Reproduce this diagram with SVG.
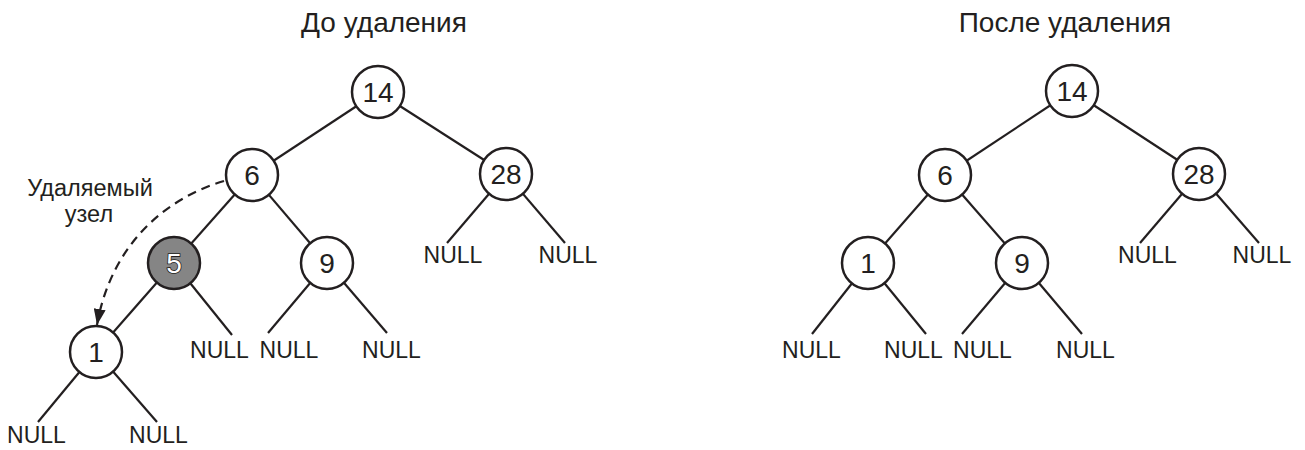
<svg xmlns="http://www.w3.org/2000/svg" width="1305" height="450" viewBox="0 0 1305 450">
<style>
text{font-family:"Liberation Sans",Arial,sans-serif;fill:#231f20}
.t{font-size:28px;text-anchor:middle}
.n{font-size:28px;text-anchor:middle}
.nl{font-size:23px;text-anchor:middle}
.lb{font-size:23.5px;text-anchor:middle}
circle{fill:#fff;stroke:#231f20;stroke-width:2.5}
#conn line{stroke:#231f20;stroke-width:2.2}
.dash{fill:none;stroke:#231f20;stroke-width:2.2;stroke-dasharray:9 6}
</style>
<defs>
<marker id="ah" markerUnits="userSpaceOnUse" markerWidth="16" markerHeight="12" refX="16" refY="6" orient="auto">
<path d="M0,0 L16,6 L0,12 z" fill="#231f20"/>
</marker>
</defs>
<rect width="1305" height="450" fill="#fff"/>
<text class="t" x="384" y="32">До удаления</text>
<text class="t" x="1065" y="32">После удаления</text>
<g id="conn">
<line x1="378" y1="92" x2="252" y2="175"/>
<line x1="378" y1="92" x2="506" y2="174"/>
<line x1="252" y1="175" x2="174" y2="263"/>
<line x1="252" y1="175" x2="327" y2="263"/>
<line x1="174" y1="263" x2="96" y2="352"/>
<line x1="174" y1="263" x2="232" y2="335"/>
<line x1="327" y1="263" x2="268" y2="333"/>
<line x1="327" y1="263" x2="387" y2="333"/>
<line x1="96" y1="352" x2="38" y2="422"/>
<line x1="96" y1="352" x2="157" y2="422"/>
<line x1="506" y1="174" x2="447" y2="243"/>
<line x1="506" y1="174" x2="565" y2="243"/>
<line x1="1072" y1="91" x2="945" y2="175"/>
<line x1="1072" y1="91" x2="1199" y2="174"/>
<line x1="945" y1="175" x2="868" y2="263"/>
<line x1="945" y1="175" x2="1022" y2="263"/>
<line x1="868" y1="263" x2="812" y2="334"/>
<line x1="868" y1="263" x2="926" y2="334"/>
<line x1="1022" y1="263" x2="962" y2="334"/>
<line x1="1022" y1="263" x2="1082" y2="334"/>
<line x1="1199" y1="174" x2="1140" y2="243"/>
<line x1="1199" y1="174" x2="1259" y2="243"/>
<path class="dash" d="M224 181 C160 200 110 250 97 325" marker-end="url(#ah)"/>
</g>
<g id="L14"><circle cx="378" cy="92" r="26"/><text class="n" x="378" y="102">14</text></g>
<g id="L6"><circle cx="252" cy="175" r="26"/><text class="n" x="252" y="185">6</text></g>
<g id="L28"><circle cx="506" cy="174" r="26"/><text class="n" x="506" y="184">28</text></g>
<g id="L5"><circle cx="174" cy="263" r="26" style="fill:#858585"/><text class="n" x="174" y="273" style="fill:#fff;stroke:#231f20;stroke-width:1.6;paint-order:stroke">5</text></g>
<g id="L9"><circle cx="327" cy="263" r="26"/><text class="n" x="327" y="273">9</text></g>
<g id="L1"><circle cx="96" cy="352" r="26"/><text class="n" x="96" y="362">1</text></g>
<g id="Lnull">
<text class="nl" x="219.5" y="358">NULL</text>
<text class="nl" x="289" y="358">NULL</text>
<text class="nl" x="391.5" y="358">NULL</text>
<text class="nl" x="36.5" y="443">NULL</text>
<text class="nl" x="158.5" y="443">NULL</text>
<text class="nl" x="453" y="263">NULL</text>
<text class="nl" x="568" y="263">NULL</text>
</g>
<g id="label"><text class="lb" x="90" y="196">Удаляемый</text><text class="lb" x="89" y="222">узел</text></g>
<g id="R14"><circle cx="1072" cy="91" r="26"/><text class="n" x="1072" y="101">14</text></g>
<g id="R6"><circle cx="945" cy="175" r="26"/><text class="n" x="945" y="185">6</text></g>
<g id="R28"><circle cx="1199" cy="174" r="26"/><text class="n" x="1199" y="184">28</text></g>
<g id="R1"><circle cx="868" cy="263" r="26"/><text class="n" x="868" y="273">1</text></g>
<g id="R9"><circle cx="1022" cy="263" r="26"/><text class="n" x="1022" y="273">9</text></g>
<g id="Rnull">
<text class="nl" x="811.5" y="358">NULL</text>
<text class="nl" x="913.5" y="358">NULL</text>
<text class="nl" x="982.5" y="358">NULL</text>
<text class="nl" x="1085.5" y="358">NULL</text>
<text class="nl" x="1147.5" y="263">NULL</text>
<text class="nl" x="1262" y="263">NULL</text>
</g>
</svg>
